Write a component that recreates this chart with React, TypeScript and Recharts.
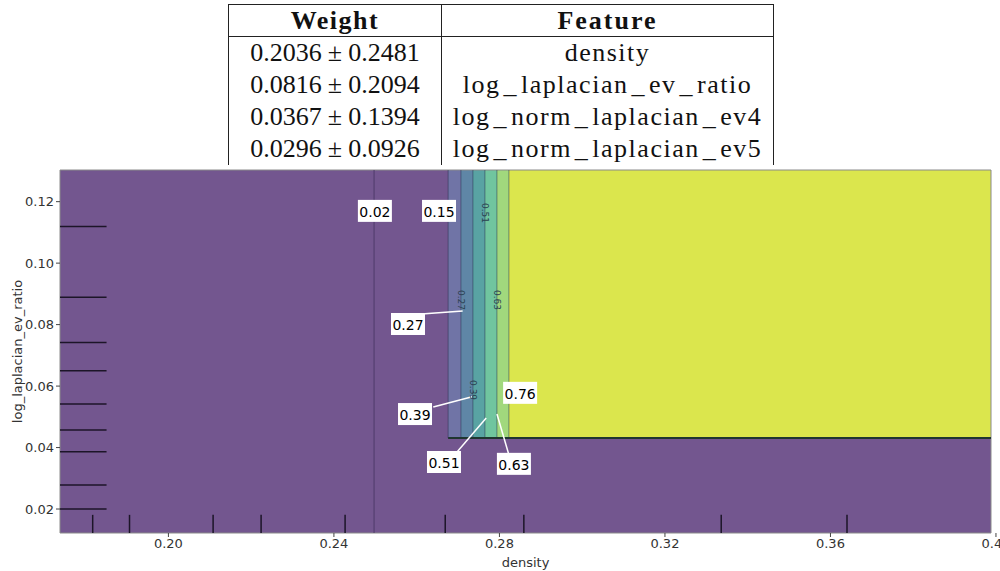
import { ComposedChart, XAxis, YAxis, ReferenceArea, ReferenceLine, Scatter } from 'recharts';

// permutation importance table
const weightMean = ['0.2036', '0.0816', '0.0367', '0.0296'];
const weightStd = ['0.2481', '0.2094', '0.1394', '0.0926'];
const featureCol = ['density', 'log_laplacian_ev_ratio', 'log_norm_laplacian_ev4', 'log_norm_laplacian_ev5'];

// axes
const xDomain: [number, number] = [0.1738, 0.3988];
const yDomain: [number, number] = [0.0122, 0.1303];
const xTicks = [0.2, 0.24, 0.28, 0.32, 0.36, 0.4];
const yTicks = [0.02, 0.04, 0.06, 0.08, 0.1, 0.12];

// partial dependence contour: bands along density above the floor
const bandEdges = [0.2676, 0.2707, 0.2736, 0.2765, 0.2794, 0.2823];
const bandColors = ['#7074a6', '#5f86a6', '#59a3a3', '#70c59f', '#a1d87d', '#dbe64d'];
const bandFloor = 0.0431;
const lowContour = 0.2497;

// rug of training samples
const rugX = [0.1817, 0.1906, 0.2108, 0.2224, 0.2427, 0.2669, 0.2859, 0.3336, 0.364];
const rugY = [0.1119, 0.0889, 0.0742, 0.065, 0.0542, 0.0457, 0.0386, 0.0278, 0.02];

// contour level labels
const boxLabels = [
  { x: 0.2499, y: 0.117, text: '0.02' },
  { x: 0.2654, y: 0.117, text: '0.15' },
  { x: 0.2579, y: 0.0802, text: '0.27' },
  { x: 0.2596, y: 0.0509, text: '0.39' },
  { x: 0.2666, y: 0.0353, text: '0.51' },
  { x: 0.2835, y: 0.0347, text: '0.63' },
  { x: 0.285, y: 0.0578, text: '0.76' },
];
const leaders = [
  { x1: 0.262, y1: 0.0835, x2: 0.2711, y2: 0.0844 },
  { x1: 0.264, y1: 0.0532, x2: 0.2734, y2: 0.0565 },
  { x1: 0.2698, y1: 0.0386, x2: 0.2768, y2: 0.0496 },
  { x1: 0.2823, y1: 0.0376, x2: 0.2794, y2: 0.0509 },
];
const inlineLabels = [
  { x: 0.2765, y: 0.1163, text: '0.51' },
  { x: 0.2707, y: 0.088, text: '0.27' },
  { x: 0.2794, y: 0.088, text: '0.63' },
  { x: 0.2736, y: 0.0587, text: '0.39' },
];

const bgPurple = '#73568f';
const axisFont = { fontFamily: 'DejaVu Sans', fontSize: 13, fill: '#333' };

const BoxLabel = (props: any) => {
  const { cx, cy, payload } = props;
  return (
    <g>
      <rect x={cx - 17} y={cy - 11} width={34} height={22} fill="#fff" />
      <text x={cx} y={cy + 1} textAnchor="middle" dominantBaseline="central"
        fontFamily="DejaVu Sans" fontSize={14} fill="#000">{payload.text}</text>
    </g>
  );
};

const InlineLabel = (props: any) => {
  const { cx, cy, payload } = props;
  return (
    <text x={cx} y={cy} transform={`rotate(90, ${cx}, ${cy})`} textAnchor="middle"
      dominantBaseline="central" fontFamily="DejaVu Sans" fontSize={9} fill="#2a4050">
      {payload.text}
    </text>
  );
};

const YLabel = ({ viewBox }: any) => {
  const x = viewBox.x + 17;
  const y = viewBox.y + viewBox.height / 2;
  return (
    <text x={x} y={y} transform={`rotate(-90, ${x}, ${y})`} textAnchor="middle"
      dominantBaseline="central" {...axisFont}>log_laplacian_ev_ratio</text>
  );
};

const XLabel = ({ viewBox }: any) => (
  <text x={viewBox.x + viewBox.width / 2} y={viewBox.y + 29} textAnchor="middle"
    dominantBaseline="central" {...axisFont}>density</text>
);

// latex-ish underscores are wider than the serif glyph
const Feature = ({ name }: { name: string }) => {
  const parts = name.split('_');
  return (
    <>
      {parts.map((p, i) => (
        <span key={i}>
          {i > 0 && <span style={{ margin: '0 3px' }}>_</span>}
          {p}
        </span>
      ))}
    </>
  );
};

const cell = { border: '1px solid #222', padding: 0, textAlign: 'center' as const };

export default function App() {
  const rugW = (xDomain[1] - xDomain[0]) * 0.05;
  const rugH = (yDomain[1] - yDomain[0]) * 0.05;
  return (
    <div style={{ position: 'absolute', left: 0, top: 0, width: 1000, height: 571, overflow: 'hidden', background: '#fff' }}>
      <table style={{
        position: 'absolute', left: 228, top: 4, width: 546, borderCollapse: 'collapse',
        fontFamily: 'Liberation Serif', fontSize: 26, color: '#111', lineHeight: '31px',
      }}>
        <thead>
          <tr style={{ height: 32 }}>
            <th style={{ ...cell, width: 212, fontWeight: 'bold', letterSpacing: 1.5 }}>Weight</th>
            <th style={{ ...cell, fontWeight: 'bold', letterSpacing: 2 }}>Feature</th>
          </tr>
        </thead>
        <tbody>
          {weightMean.map((w, i) => (
            <tr key={i} style={{ height: 32 }}>
              <td style={{ ...cell, borderTop: i === 0 ? '1px solid #222' : 'none', borderBottom: 'none' }}>
                {w}<span style={{ margin: '0 6px' }}>±</span>{weightStd[i]}
              </td>
              <td style={{ ...cell, letterSpacing: 1.5, borderTop: i === 0 ? '1px solid #222' : 'none', borderBottom: 'none' }}>
                <Feature name={featureCol[i]} />
              </td>
            </tr>
          ))}
        </tbody>
      </table>
      <div style={{ position: 'absolute', left: 0, top: 0 }}>
        <ComposedChart width={1000} height={571} margin={{ top: 170, right: 9, bottom: 0, left: 0 }}>
          <XAxis type="number" dataKey="x" domain={xDomain} ticks={xTicks} allowDataOverflow
            interval={0} height={38} axisLine={false} tickSize={4} tickMargin={2}
            tickLine={{ stroke: '#444' }} tick={axisFont}
            tickFormatter={(v: number) => v.toFixed(2)} label={<XLabel />} />
          <YAxis type="number" dataKey="y" domain={yDomain} ticks={yTicks} allowDataOverflow
            interval={0} width={60} axisLine={false} tickSize={4} tickMargin={2}
            tickLine={{ stroke: '#444' }} tick={axisFont}
            tickFormatter={(v: number) => v.toFixed(2)} label={<YLabel />} />
          <ReferenceArea x1={xDomain[0]} x2={xDomain[1]} y1={yDomain[0]} y2={yDomain[1]}
            fill={bgPurple} fillOpacity={1} stroke="none" />
          {bandColors.map((c, i) => (
            <ReferenceArea key={`b${i}`} x1={bandEdges[i]} x2={bandEdges[i + 1] ?? xDomain[1]}
              y1={bandFloor} y2={yDomain[1]} fill={c} fillOpacity={1} stroke="none" />
          ))}
          {bandEdges.map((e, i) => (
            <ReferenceLine key={`e${i}`} segment={[{ x: e, y: bandFloor }, { x: e, y: yDomain[1] }]}
              stroke="#1e2a44" strokeOpacity={0.45} strokeWidth={1} />
          ))}
          <ReferenceLine segment={[{ x: bandEdges[0], y: bandFloor }, { x: xDomain[1], y: bandFloor }]}
            stroke="#1f3630" strokeWidth={2} />
          <ReferenceLine segment={[{ x: lowContour, y: yDomain[0] }, { x: lowContour, y: yDomain[1] }]}
            stroke="#4e3b6b" strokeWidth={1} />
          {rugY.map((r, i) => (
            <ReferenceLine key={`ry${i}`} segment={[{ x: xDomain[0], y: r }, { x: xDomain[0] + rugW, y: r }]}
              stroke="#1c1528" strokeWidth={1.5} />
          ))}
          {rugX.map((r, i) => (
            <ReferenceLine key={`rx${i}`} segment={[{ x: r, y: yDomain[0] }, { x: r, y: yDomain[0] + rugH }]}
              stroke="#1c1528" strokeWidth={1.5} />
          ))}
          {leaders.map((l, i) => (
            <ReferenceLine key={`l${i}`} segment={[{ x: l.x1, y: l.y1 }, { x: l.x2, y: l.y2 }]}
              stroke="#fff" strokeWidth={1.5} />
          ))}
          <Scatter data={inlineLabels} shape={<InlineLabel />} isAnimationActive={false} />
          <Scatter data={boxLabels} shape={<BoxLabel />} isAnimationActive={false} />
          <ReferenceArea x1={xDomain[0]} x2={xDomain[1]} y1={yDomain[0]} y2={yDomain[1]}
            fill="none" stroke="#8a8a8a" strokeWidth={1} />
        </ComposedChart>
      </div>
    </div>
  );
}
